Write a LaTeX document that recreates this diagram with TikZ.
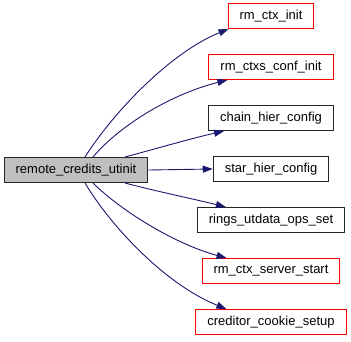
\documentclass[tikz,border=0pt]{standalone}
\usepackage{fontspec}
\setmainfont{Liberation Sans}
\usetikzlibrary{arrows.meta,positioning}

\definecolor{edgeblue}{HTML}{191970}
\definecolor{rootgray}{HTML}{BFBFBF}

\begin{document}
\begin{tikzpicture}[x=1pt,y=-1pt,
	fnbox/.style={draw=#1,line width=1pt,minimum height=25pt,inner xsep=11.5pt,font=\fontsize{13}{15}\selectfont},
	call/.style={-{Triangle[length=10pt,width=7pt]},color=edgeblue,line width=0.9pt}]
	\useasboundingbox (0,0) rectangle (351,341);

	% caller
	\node[fnbox=black!85,fill=rootgray] (utinit) at (76,170) {remote\_credits\_utinit};

	% callees, one row each
	\foreach \name/\col [count=\n] in
		{rm\_ctx\_init/red,rm\_ctxs\_conf\_init/red,chain\_hier\_config/black!85,
		 star\_hier\_config/black!85,rings\_utdata\_ops\_set/black!85,
		 rm\_ctx\_server\_start/red,creditor\_cookie\_setup/red}
		\node[fnbox=\col,fill=white] (N\n) at (271,{16+(\n-1)*51}) {\name};

	\draw[call] ([xshift=9pt]utinit.north) .. controls +(30,-47) and +(-57,23) .. ([xshift=1pt]N1.south west);
	\draw[call] ([xshift=17pt]utinit.north) .. controls +(27,-32) and +(-56,14) .. ([xshift=19pt]N2.south west);
	\draw[call] ([xshift=49pt]utinit.north) .. controls +(30,-8) and +(-35,8) .. ([xshift=16pt]N3.south west);
	\draw[call] (utinit.east) -- (N4.west);
	\draw[call] ([xshift=49pt]utinit.south) .. controls +(30,8) and +(-32,-8) .. ([xshift=29pt]N5.north west);
	\draw[call] ([xshift=17pt]utinit.south) .. controls +(27,27) and +(-52,-14) .. ([xshift=25pt]N6.north west);
	\draw[call] ([xshift=9pt]utinit.south) .. controls +(25,42) and +(-62,-25) .. ([xshift=31pt]N7.north west);
\end{tikzpicture}
\end{document}
